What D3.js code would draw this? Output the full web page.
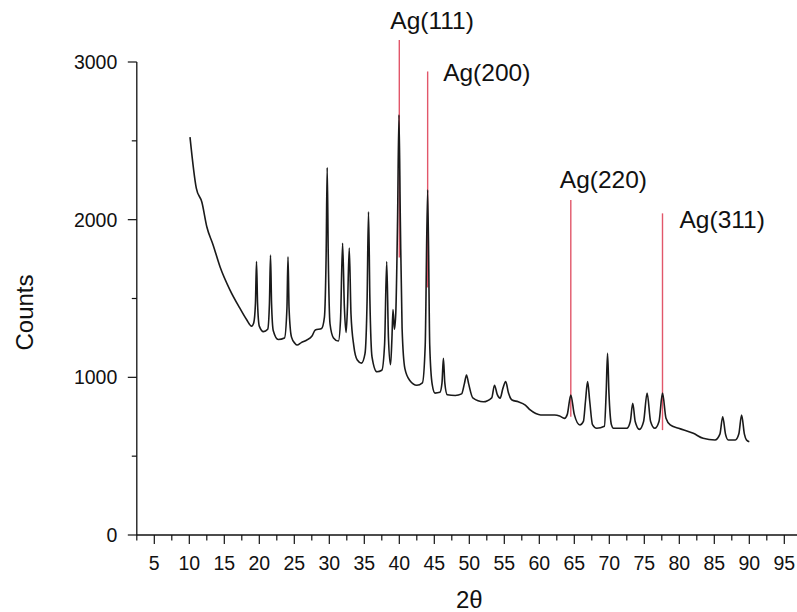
<!DOCTYPE html>
<html>
<head>
<meta charset="utf-8">
<script src="https://cdn.jsdelivr.net/npm/d3@7"></script>
<style>
  html, body { margin: 0; padding: 0; background: #fff; }
  svg text { font-family: Arial, "Liberation Sans", sans-serif; fill: #111; }
</style>
</head>
<body>
<svg id="chart" width="797" height="612"></svg>
<script>
// ---- data ----
const twoTheta = [
  10.1, 11.0, 11.8, 12.5, 13.4, 14.4, 15.8, 17.2, 18.2, 18.9,
  19.2, 19.45, 19.6, 19.75, 20.0, 20.6, 21.2, 21.45, 21.6, 21.75,
  22.0, 22.7, 23.6, 23.95, 24.1, 24.25, 24.6, 25.1, 25.4, 26.0,
  26.8, 27.5, 28.0, 28.9, 29.3, 29.55, 29.7, 29.85, 30.1, 30.6,
  31.3, 31.6, 31.9, 32.15, 32.4, 32.6, 32.85, 33.1, 33.5, 34.0,
  34.6, 35.1, 35.4, 35.6, 35.8, 36.1, 36.8, 37.5, 37.9, 38.2,
  38.45, 38.75, 38.95, 39.1, 39.3, 39.5, 39.75, 39.95, 40.15, 40.4,
  40.8, 41.5, 42.5, 43.3, 43.7, 44.05, 44.35, 44.7, 45.1, 45.8,
  46.1, 46.3, 46.5, 46.85, 48.0, 48.9, 49.3, 49.6, 49.9, 50.5,
  52.0, 53.2, 53.6, 54.0, 54.4, 54.8, 55.2, 55.6, 56.1, 57.0,
  58.0, 58.7, 59.5, 60.2, 62.2, 62.9, 63.6, 64.0, 64.5, 65.0,
  65.8, 66.3, 66.6, 66.9, 67.2, 67.6, 68.2, 69.3, 69.55, 69.75,
  69.95, 70.3, 70.6, 72.5, 73.0, 73.35, 73.7, 74.3, 74.9, 75.4,
  75.9, 76.5, 77.1, 77.6, 78.1, 78.7, 79.9, 82.0, 83.4, 85.1,
  85.8, 86.2, 86.6, 87.0, 88.0, 88.5, 88.9, 89.3, 89.6, 90.0
];
const counts = [
  2524, 2200, 2110, 1955, 1840, 1700, 1555, 1440, 1365, 1325,
  1345, 1470, 1735, 1470, 1325, 1290, 1305, 1470, 1775, 1470,
  1295, 1240, 1250, 1440, 1765, 1440, 1255, 1215, 1205, 1220,
  1237, 1260, 1300, 1310, 1380, 1780, 2330, 1780, 1340, 1250,
  1230, 1360, 1850, 1450, 1285, 1450, 1820, 1400, 1200, 1110,
  1090, 1150, 1490, 2050, 1490, 1130, 1035, 1045, 1210, 1735,
  1250, 1080, 1250, 1430, 1305, 1410, 1990, 2665, 1990, 1310,
  1055, 980, 950, 965, 1200, 2190, 1200, 955, 900, 905,
  965, 1120, 965, 890, 885, 895, 960, 1015, 960, 870,
  845, 870, 950, 890, 868, 930, 973, 900, 856, 845,
  824, 793, 770, 761, 761, 755, 740, 765, 888, 765,
  698, 720, 850, 973, 850, 700, 677, 690, 900, 1152,
  900, 700, 677, 677, 720, 835, 720, 670, 720, 900,
  720, 677, 720, 900, 740, 698, 677, 645, 613, 603,
  640, 750, 640, 603, 603, 640, 761, 640, 603, 592
];

const refLabels = ["Ag(111)", "Ag(200)", "Ag(220)", "Ag(311)"];
const refPos    = [40.0, 44.05, 64.5, 77.6];
const refTop    = [3140, 2940, 2125, 2040];
const refBottom = [1760, 1570, 750, 665];

const xMajorTicks = [5, 10, 15, 20, 25, 30, 35, 40, 45, 50, 55, 60, 65, 70, 75, 80, 85, 90, 95];
const yMajorTicks = [0, 1000, 2000, 3000];

// ---- layout ----
const svg = d3.select("#chart");
const x = d3.scaleLinear().domain([2.5, 97.5]).range([136.8, 801.8]);
const y = d3.scaleLinear().domain([0, 3000]).range([535, 62]);

const axisColor = "#111";

// x axis
const gx = svg.append("g").attr("transform", `translate(0,${y(0)})`);
gx.append("line").attr("x1", x(2.5)).attr("x2", 801.8).attr("y1", 0).attr("y2", 0)
  .attr("stroke", axisColor).attr("stroke-width", 1.3);
const xMinor = d3.range(2.5, 98, 5);
gx.selectAll(".xminor").data(xMinor).join("line")
  .attr("x1", d => x(d)).attr("x2", d => x(d)).attr("y1", 0).attr("y2", 5.5)
  .attr("stroke", axisColor).attr("stroke-width", 1.2);
gx.selectAll(".xmajor").data(xMajorTicks).join("line")
  .attr("x1", d => x(d)).attr("x2", d => x(d)).attr("y1", 0).attr("y2", 9)
  .attr("stroke", axisColor).attr("stroke-width", 1.2);
gx.selectAll(".xlab").data(xMajorTicks).join("text")
  .attr("x", d => x(d)).attr("y", 34.5)
  .attr("text-anchor", "middle").attr("font-size", 19.5)
  .text(d => d);

// y axis
const gy = svg.append("g").attr("transform", `translate(${x(2.5)},0)`);
gy.append("line").attr("x1", 0).attr("x2", 0).attr("y1", y(0)).attr("y2", y(3000))
  .attr("stroke", axisColor).attr("stroke-width", 1.3);
const yMinor = [500, 1500, 2500];
gy.selectAll(".yminor").data(yMinor).join("line")
  .attr("x1", -5).attr("x2", 0).attr("y1", d => y(d)).attr("y2", d => y(d))
  .attr("stroke", axisColor).attr("stroke-width", 1.2);
gy.selectAll(".ymajor").data(yMajorTicks).join("line")
  .attr("x1", -9).attr("x2", 0).attr("y1", d => y(d)).attr("y2", d => y(d))
  .attr("stroke", axisColor).attr("stroke-width", 1.2);
gy.selectAll(".ylab").data(yMajorTicks).join("text")
  .attr("x", -19.5).attr("y", d => y(d) + 7)
  .attr("text-anchor", "end").attr("font-size", 19.5)
  .text(d => d);

// axis titles
svg.append("text")
  .attr("transform", "translate(33,312.5) rotate(-90)")
  .attr("text-anchor", "middle").attr("font-size", 24)
  .text("Counts");
svg.append("text")
  .attr("x", x(50)).attr("y", 608)
  .attr("text-anchor", "middle").attr("font-size", 24)
  .text("2θ");

// reference lines (Ag)
svg.selectAll(".ref").data(refPos).join("line")
  .attr("x1", d => x(d)).attr("x2", d => x(d))
  .attr("y1", (d, i) => y(refTop[i])).attr("y2", (d, i) => y(refBottom[i]))
  .attr("stroke", "#e2576a").attr("stroke-width", 1.4);

// XRD pattern
const pts = twoTheta.map((t, i) => [t, counts[i]]);
const line = d3.line().x(d => x(d[0])).y(d => y(d[1])).curve(d3.curveMonotoneX);
svg.append("path").datum(pts)
  .attr("d", line)
  .attr("fill", "none").attr("stroke", "#1a1a1a")
  .attr("stroke-width", 1.6).attr("stroke-linejoin", "round");

// labels
const labelDx = [-9, 15.5, -11, 17];
const labelDy = [-11, 10, -12, 14.5];
svg.selectAll(".reflab").data(refLabels).join("text")
  .attr("x", (d, i) => x(refPos[i]) + labelDx[i])
  .attr("y", (d, i) => y(refTop[i]) + labelDy[i])
  .attr("font-size", 24.5)
  .text(d => d);
</script>
</body>
</html>
